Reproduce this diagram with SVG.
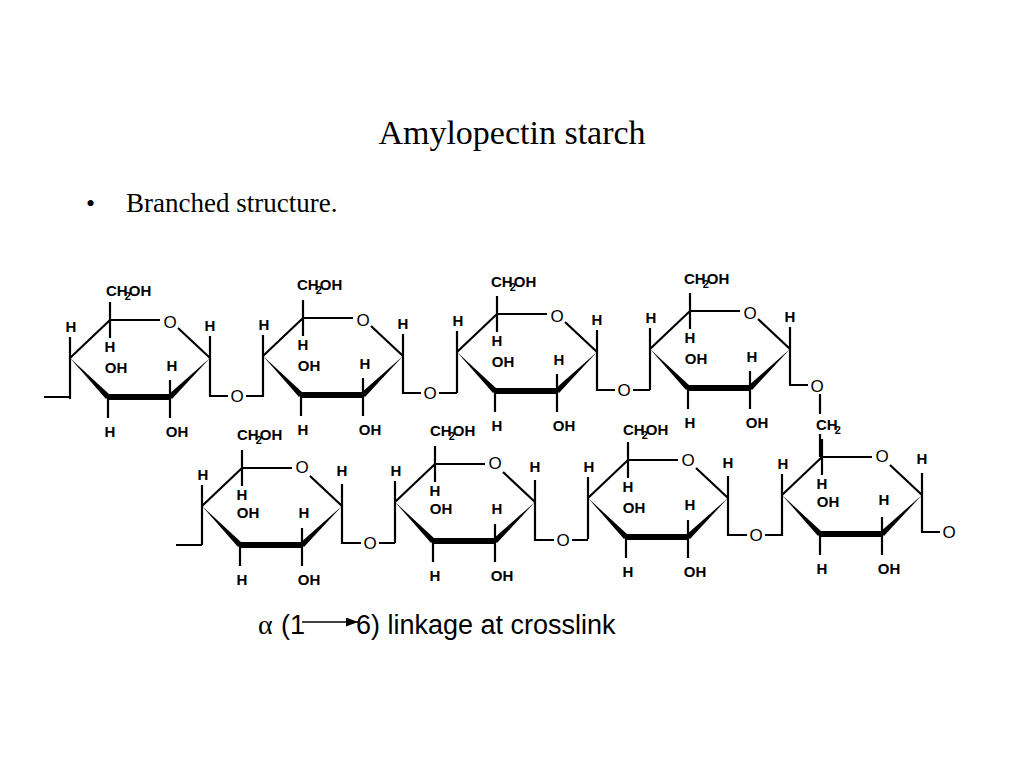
<svg xmlns="http://www.w3.org/2000/svg" width="1024" height="768" viewBox="0 0 1024 768">
<style>
.t{fill:none;stroke:#000;stroke-width:2.2}
.k{fill:none;stroke:#000;stroke-width:6}
.w{fill:#000}
.a{font-family:"Liberation Sans",Arial,sans-serif;font-weight:bold;font-size:15px;text-anchor:middle}
.c{font-family:"Liberation Sans",Arial,sans-serif;font-weight:bold;font-size:15px;text-anchor:start}
.o{font-family:"Liberation Sans",Arial,sans-serif;font-size:17px;text-anchor:middle}
.s{font-size:11px}
</style>
<defs>
<marker id="ar" markerWidth="8" markerHeight="6" refX="8" refY="3" orient="auto"><path d="M0,0 L8,3 L0,6 z"/></marker>
</defs>
<rect width="1024" height="768" fill="#fff"/>
<text x="512" y="144" font-family="Liberation Serif,serif" font-size="34" text-anchor="middle">Amylopectin starch</text>
<text x="86" y="212" font-family="Liberation Serif,serif" font-size="26">•</text>
<text x="126" y="212" font-family="Liberation Serif,serif" font-size="27">Branched structure.</text>

<g id="ringT1" transform="translate(70,358)">
<path class="t" d="M0,-21V41M0,0L40,-38H90M108,-30L140,0M40,-38V-56M40,-38V-20M100,39V22M38,39V60M100,39V60M140,0V-22"/>
<path class="k" d="M38,39H100"/><polygon class="w" points="0,0 36,41 40,37"/><polygon class="w" points="98,37 102,41 140,0"/>
<text class="a" x="1" y="-26">H</text><text class="c" x="36" y="-62">CH<tspan class="s" dy="4" dx="-3">2</tspan><tspan dy="-4" dx="-2">OH</tspan></text>
<text class="a" x="40" y="-6">H</text><text class="a" x="46" y="15">OH</text><text class="a" x="102" y="13">H</text>
<text class="a" x="40" y="79">H</text><text class="a" x="107" y="79">OH</text><text class="a" x="140" y="-27">H</text><text class="o" x="100" y="-30">O</text>
</g>
<g id="ringT2" transform="translate(263,356)">
<path class="t" d="M0,-21V41M0,0L40,-38H90M108,-30L140,0M40,-38V-56M40,-38V-20M100,39V22M38,39V60M100,39V60M140,0V-22"/>
<path class="k" d="M38,39H100"/><polygon class="w" points="0,0 36,41 40,37"/><polygon class="w" points="98,37 102,41 140,0"/>
<text class="a" x="1" y="-26">H</text><text class="c" x="34" y="-66">CH<tspan class="s" dy="4" dx="-3">2</tspan><tspan dy="-4" dx="-2">OH</tspan></text>
<text class="a" x="40" y="-6">H</text><text class="a" x="46" y="15">OH</text><text class="a" x="102" y="13">H</text>
<text class="a" x="40" y="79">H</text><text class="a" x="107" y="79">OH</text><text class="a" x="140" y="-27">H</text><text class="o" x="100" y="-30">O</text>
</g>
<g id="ringT3" transform="translate(457,352)">
<path class="t" d="M0,-21V41M0,0L40,-38H90M108,-30L140,0M40,-38V-56M40,-38V-20M100,39V22M38,39V60M100,39V60M140,0V-22"/>
<path class="k" d="M38,39H100"/><polygon class="w" points="0,0 36,41 40,37"/><polygon class="w" points="98,37 102,41 140,0"/>
<text class="a" x="1" y="-26">H</text><text class="c" x="34" y="-65">CH<tspan class="s" dy="4" dx="-3">2</tspan><tspan dy="-4" dx="-2">OH</tspan></text>
<text class="a" x="40" y="-6">H</text><text class="a" x="46" y="15">OH</text><text class="a" x="102" y="13">H</text>
<text class="a" x="40" y="79">H</text><text class="a" x="107" y="79">OH</text><text class="a" x="140" y="-27">H</text><text class="o" x="100" y="-30">O</text>
</g>
<g id="ringT4" transform="translate(650,349)">
<path class="t" d="M0,-21V41M0,0L40,-38H90M108,-30L140,0M40,-38V-56M40,-38V-20M100,39V22M38,39V60M100,39V60M140,0V-22"/>
<path class="k" d="M38,39H100"/><polygon class="w" points="0,0 36,41 40,37"/><polygon class="w" points="98,37 102,41 140,0"/>
<text class="a" x="1" y="-26">H</text><text class="c" x="34" y="-65">CH<tspan class="s" dy="4" dx="-3">2</tspan><tspan dy="-4" dx="-2">OH</tspan></text>
<text class="a" x="40" y="-6">H</text><text class="a" x="46" y="15">OH</text><text class="a" x="102" y="13">H</text>
<text class="a" x="40" y="79">H</text><text class="a" x="107" y="79">OH</text><text class="a" x="140" y="-27">H</text><text class="o" x="100" y="-30">O</text>
</g>
<g id="ringB1" transform="translate(202,506)">
<path class="t" d="M0,-21V39M0,0L40,-38H90M108,-30L140,0M40,-38V-56M40,-38V-20M100,39V22M38,39V60M100,39V60M140,0V-22"/>
<path class="k" d="M38,39H100"/><polygon class="w" points="0,0 36,41 40,37"/><polygon class="w" points="98,37 102,41 140,0"/>
<text class="a" x="1" y="-26">H</text><text class="c" x="35" y="-66">CH<tspan class="s" dy="4" dx="-3">2</tspan><tspan dy="-4" dx="-2">OH</tspan></text>
<text class="a" x="40" y="-6">H</text><text class="a" x="46" y="12">OH</text><text class="a" x="102" y="12">H</text>
<text class="a" x="40" y="79">H</text><text class="a" x="107" y="79">OH</text><text class="a" x="140" y="-30">H</text><text class="o" x="100" y="-33">O</text>
</g>
<g id="ringB2" transform="translate(395,502)">
<path class="t" d="M0,-21V41M0,0L40,-38H90M108,-30L140,0M40,-38V-56M40,-38V-20M100,39V22M38,39V60M100,39V60M140,0V-22"/>
<path class="k" d="M38,39H100"/><polygon class="w" points="0,0 36,41 40,37"/><polygon class="w" points="98,37 102,41 140,0"/>
<text class="a" x="1" y="-26">H</text><text class="c" x="35" y="-66">CH<tspan class="s" dy="4" dx="-3">2</tspan><tspan dy="-4" dx="-2">OH</tspan></text>
<text class="a" x="40" y="-6">H</text><text class="a" x="46" y="12">OH</text><text class="a" x="102" y="12">H</text>
<text class="a" x="40" y="79">H</text><text class="a" x="107" y="79">OH</text><text class="a" x="140" y="-30">H</text><text class="o" x="100" y="-33">O</text>
</g>
<g id="ringB3" transform="translate(588,498)">
<path class="t" d="M0,-21V41M0,0L40,-38H90M108,-30L140,0M40,-38V-56M40,-38V-20M100,39V22M38,39V60M100,39V60M140,0V-22"/>
<path class="k" d="M38,39H100"/><polygon class="w" points="0,0 36,41 40,37"/><polygon class="w" points="98,37 102,41 140,0"/>
<text class="a" x="1" y="-26">H</text><text class="c" x="35" y="-63">CH<tspan class="s" dy="4" dx="-3">2</tspan><tspan dy="-4" dx="-2">OH</tspan></text>
<text class="a" x="40" y="-6">H</text><text class="a" x="46" y="15">OH</text><text class="a" x="102" y="12">H</text>
<text class="a" x="40" y="79">H</text><text class="a" x="107" y="79">OH</text><text class="a" x="140" y="-30">H</text><text class="o" x="100" y="-32">O</text>
</g>
<g id="ringB4" transform="translate(782,495)">
<path class="t" d="M0,-21V41M0,0L40,-38H90M108,-30L140,0M40,-38V-56M40,-38V-20M100,39V22M38,39V60M100,39V60M140,0V-22M140,0V37H158"/>
<path class="k" d="M38,39H100"/><polygon class="w" points="0,0 36,41 40,37"/><polygon class="w" points="98,37 102,41 140,0"/>
<text class="a" x="1" y="-26">H</text><text class="c" x="34" y="-65">CH<tspan class="s" dy="4" dx="-3">2</tspan></text>
<text class="a" x="40" y="-6">H</text><text class="a" x="46" y="12">OH</text><text class="a" x="102" y="10">H</text>
<text class="a" x="40" y="79">H</text><text class="a" x="107" y="79">OH</text><text class="a" x="140" y="-31">H</text><text class="o" x="100" y="-33">O</text>
<text class="o" x="167" y="43">O</text>
</g>

<g id="connectors">
<path class="t" d="M70,397H44M202,545H176"/>
<path class="t" d="M210,358V396H228M246,396H263M403,356V393H421M439,393H457M597,352V390H615M633,390H650M790,349V385H808M820,394V414M820,434V457"/>
<path class="t" d="M342,506V543H361M379,543H395M535,502V540H554M572,540H588M728,498V535H747M765,535H782"/>
<text class="o" x="237" y="402">O</text><text class="o" x="430" y="399">O</text><text class="o" x="624" y="396">O</text><text class="o" x="817" y="392">O</text>
<text class="o" x="370" y="549">O</text><text class="o" x="563" y="546">O</text><text class="o" x="756" y="541">O</text>
</g>

<text x="258" y="634" font-family="Liberation Serif,serif" font-size="28">α</text>
<g font-family="Liberation Sans,Arial,sans-serif" font-size="27">
<text x="281" y="634">(1</text>
<text x="356" y="634">6) linkage at crosslink</text>
</g>
<path d="M302,622H358" stroke="#000" stroke-width="1.5" marker-end="url(#ar)"/>
</svg>
